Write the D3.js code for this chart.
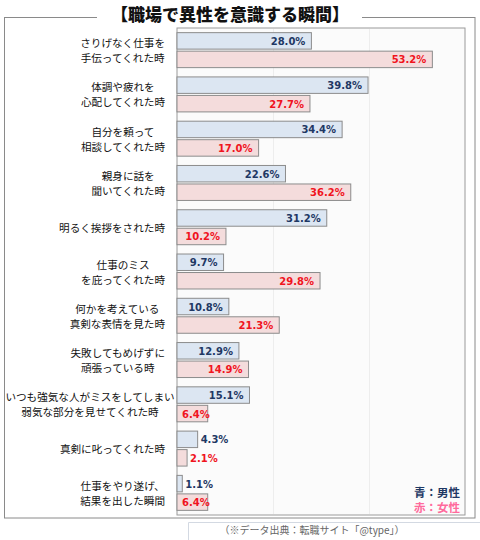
<!DOCTYPE html>
<html><head><meta charset="utf-8">
<script src="https://cdn.jsdelivr.net/npm/d3@7"></script>
<style>
body{margin:0;background:#fff;}
svg{display:block;}
</style></head>
<body>
<svg id="c" width="480" height="540"></svg>
<script>
const title = "【職場で異性を意識する瞬間】";
const categories = [
  "さりげなく仕事を\n手伝ってくれた時",
  "体調や疲れを\n心配してくれた時",
  "自分を頼って\n相談してくれた時",
  "親身に話を\n聞いてくれた時",
  "明るく挨拶をされた時",
  "仕事のミス\nを庇ってくれた時",
  "何かを考えている\n真剣な表情を見た時",
  "失敗してもめげずに\n頑張っている時",
  "いつも強気な人がミスをしてしまい\n弱気な部分を見せてくれた時",
  "真剣に叱ってくれた時",
  "仕事をやり遂げ、\n結果を出した瞬間"
];
const male   = [28.0, 39.8, 34.4, 22.6, 31.2, 9.7, 10.8, 12.9, 15.1, 4.3, 1.1];
const female = [53.2, 27.7, 17.0, 36.2, 10.2, 29.8, 21.3, 14.9, 6.4, 2.1, 6.4];
const seriesNames = ["男性", "女性"];
const legendLabels = ["青：男性", "赤：女性"];
const gridTicks = [20, 40];
const source = "（※データ出典：転職サイト「@type」）";

const svg = d3.select("#c");
const jp = "'Noto Sans CJK JP','Noto Sans',sans-serif";
const num = "'DejaVu Sans',sans-serif";

const L = 177, R = 465, T = 28, B = 515;
const x = d3.scaleLinear().domain([0, 60]).range([L, R]);
const y = d3.scaleBand().domain(d3.range(categories.length)).range([T, B]).paddingInner(0.21).paddingOuter(0.105);
const ys = d3.scaleBand().domain([0, 1]).range([0, y.bandwidth()]).paddingInner(0.11);

// outer frame
svg.append("rect").attr("x", 4.5).attr("y", 17.5).attr("width", 470.5).attr("height", 500.5)
  .attr("fill", "#fff").attr("stroke", "#8a8a8a");
// source box
svg.append("path").attr("d", "M188.5,541 V522.5 H481").attr("fill", "none").attr("stroke", "#d3d9e2");
svg.append("text").attr("x", 312).attr("y", 529).attr("text-anchor", "middle").attr("dominant-baseline", "central")
  .attr("font-family", jp).attr("font-size", 10).attr("fill", "#666").text(source);

// title
svg.append("rect").attr("x", 97).attr("y", 8).attr("width", 265).attr("height", 14).attr("fill", "#fff");
svg.append("text").attr("x", 230).attr("y", 13).attr("text-anchor", "middle").attr("dominant-baseline", "central")
  .attr("font-family", jp).attr("font-size", 17).attr("font-weight", "900").attr("fill", "#111").text(title);

// plot area
svg.append("rect").attr("x", L).attr("y", T).attr("width", R - L).attr("height", B - T)
  .attr("fill", "#fbfbfb").attr("stroke", "#9a9a9a");
svg.append("g").selectAll("line").data(gridTicks).join("line")
  .attr("x1", d => x(d) + 0.5).attr("x2", d => x(d) + 0.5).attr("y1", T + 1).attr("y2", B - 1)
  .attr("stroke", "#ededed");

const fills = ["#dce6f2", "#f4dcdc"];
const labColors = ["#1f3864", "#f0141e"];
const series = [male, female];

series.forEach((vals, s) => {
  const g = svg.append("g");
  g.selectAll("rect").data(vals).join("rect")
    .attr("x", x(0)).attr("y", (d, i) => y(i) + ys(s))
    .attr("width", d => x(d) - x(0)).attr("height", ys.bandwidth())
    .attr("fill", fills[s]).attr("stroke", "#8c8c8c").attr("stroke-width", 1);
  g.selectAll("text").data(vals).join("text")
    .attr("y", (d, i) => y(i) + ys(s) + ys.bandwidth() / 2 + 0.5)
    .attr("dominant-baseline", "central")
    .attr("font-family", num).attr("font-size", 10).attr("font-weight", "bold")
    .attr("fill", labColors[s])
    .text(d => d.toFixed(1) + "%")
    .each(function(d) {
      const w = this.getComputedTextLength();
      const end = x(d);
      const el = d3.select(this);
      if (d < 5) {
        el.attr("x", end + 3).attr("text-anchor", "start");
      } else if (w + 11 > end - x(0)) {
        el.attr("x", x(0) + 5).attr("text-anchor", "start");
      } else {
        el.attr("x", end - 6).attr("text-anchor", "end");
      }
    });
});

// category labels
const lh = 15;
const catG = svg.append("g");
categories.forEach((c, i) => {
  const lines = c.split("\n");
  const cy = y(i) + y.bandwidth() / 2;
  const texts = lines.map((ln, k) => catG.append("text")
    .attr("y", cy + (k - (lines.length - 1) / 2) * lh)
    .attr("dominant-baseline", "central").attr("text-anchor", "middle")
    .attr("font-family", jp).attr("font-size", 10.6).attr("fill", "#111").text(ln));
  const maxW = d3.max(texts, t => t.node().getComputedTextLength());
  const bw = Math.min(maxW, 150);
  const cx = 165 - bw / 2;
  texts.forEach(t => t.attr("x", cx));
});

// legend
legendLabels.forEach((t, k) => {
  svg.append("text").attr("x", 460).attr("y", 492 + k * 15).attr("text-anchor", "end")
    .attr("dominant-baseline", "central").attr("font-family", jp).attr("font-size", 11.5).attr("font-weight", "bold")
    .attr("fill", k === 0 ? "#1f3864" : "#ff6a9c").text(t);
});
</script>
</body></html>
